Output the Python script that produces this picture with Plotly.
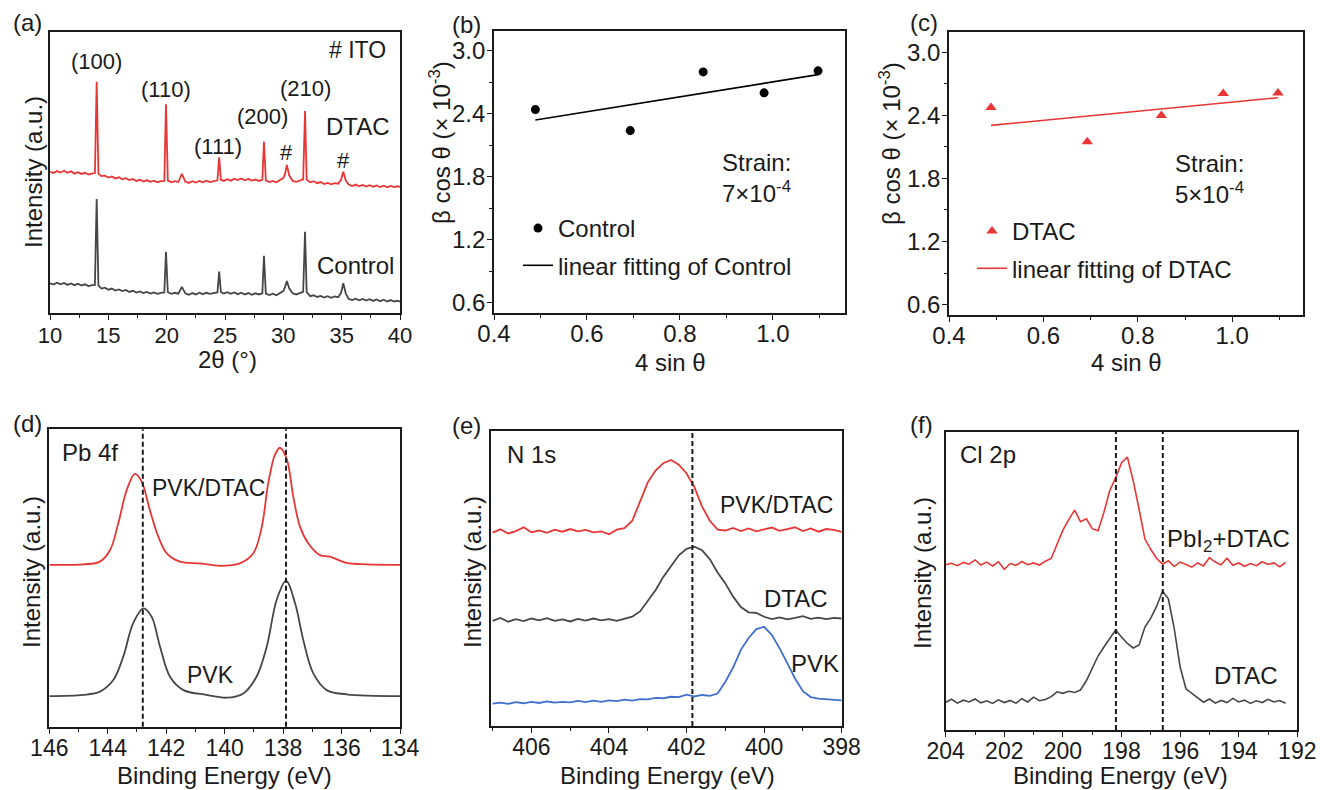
import numpy as np
import plotly.graph_objects as go

# ---------------- data ----------------
# (a) XRD patterns (arbitrary intensity units)
xrd_2theta = [10.0, 10.3, 10.6, 10.9, 11.2, 11.5, 11.8, 12.1, 12.4, 12.7,
              13.0, 13.3, 13.6, 13.85, 14.0, 14.15, 14.4, 14.7, 15.0, 15.3,
              15.6, 15.9, 16.2, 16.5, 16.8, 17.1, 17.4, 17.7, 18.0, 18.3,
              18.6, 18.9, 19.2, 19.5, 19.8, 19.94, 20.1, 20.4, 20.7, 21.0,
              21.3, 21.6, 21.9, 22.2, 22.5, 22.8, 23.1, 23.4, 23.7, 24.0,
              24.35, 24.5, 24.65, 24.9, 25.2, 25.5, 25.8, 26.1, 26.4, 26.7,
              27.0, 27.3, 27.6, 27.9, 28.2, 28.34, 28.5, 28.8, 29.1, 29.4,
              29.7, 30.0, 30.15, 30.3, 30.5, 30.8, 31.1, 31.4, 31.7, 31.86,
              32.0, 32.3, 32.6, 32.9, 33.2, 33.5, 33.8, 34.1, 34.4, 34.7,
              34.95, 35.14, 35.35, 35.6, 35.9, 36.2, 36.5, 36.8, 37.1, 37.4,
              37.7, 38.0, 38.3, 38.6, 38.9, 39.2, 39.5, 39.8, 40.0]
xrd_dtac = [50.3, 49.8, 50.5, 50.0, 50.6, 49.9, 50.4, 49.6, 50.1, 49.5,
            49.9, 49.3, 49.6, 49.8, 82.3, 49.6, 48.7, 48.9, 48.2, 48.6,
            47.9, 48.3, 47.6, 48.0, 47.3, 47.7, 47.0, 47.4, 46.8, 47.3,
            46.7, 47.1, 46.5, 46.9, 47.0, 74.3, 47.2, 46.5, 46.9, 46.6,
            49.5, 46.8, 46.3, 46.9, 46.4, 47.0, 46.5, 47.1, 46.6, 47.0,
            47.2, 55.4, 47.4, 47.0, 47.6, 47.1, 47.8, 47.3, 47.9, 47.2,
            47.7, 47.1, 47.5, 47.0, 47.4, 61.0, 47.2, 46.6, 47.0, 46.5,
            47.2, 48.0, 49.5, 52.7, 49.0, 47.0, 46.7, 47.2, 47.6, 71.9,
            47.5, 46.5, 46.9, 46.2, 46.6, 45.9, 46.3, 45.8, 46.2, 46.0,
            47.5, 50.3, 47.2, 45.7, 45.2, 45.7, 45.1, 45.6, 45.0, 45.5,
            44.9, 45.4, 44.8, 45.3, 44.7, 45.2, 44.8, 45.1, 44.9]
xrd_control = [10.6, 10.1, 10.8, 10.2, 10.7, 10.0, 10.5, 9.9, 10.4, 9.8,
               10.2, 9.6, 9.9, 10.0, 40.6, 9.8, 8.7, 9.0, 8.3, 8.7,
               8.0, 8.4, 7.8, 8.2, 7.5, 7.9, 7.3, 7.7, 7.1, 7.5,
               6.9, 7.3, 6.8, 7.2, 7.3, 21.8, 7.4, 6.8, 7.2, 6.9,
               9.3, 7.0, 6.5, 7.1, 6.6, 7.2, 6.7, 7.2, 6.8, 7.1,
               7.3, 14.7, 7.4, 6.9, 7.4, 6.8, 7.3, 6.7, 7.2, 6.6,
               7.1, 6.5, 7.0, 6.6, 7.0, 20.4, 6.9, 6.4, 6.9, 6.3,
               7.0, 7.8, 9.3, 11.4, 8.8, 7.0, 6.6, 7.1, 7.5, 28.9,
               7.4, 6.0, 6.3, 5.7, 6.1, 5.5, 6.0, 5.4, 5.9, 5.6,
               7.2, 10.6, 7.0, 5.0, 4.6, 5.1, 4.5, 5.0, 4.4, 4.9,
               4.3, 4.8, 4.2, 4.7, 4.1, 4.6, 4.1, 4.4, 4.0]

# (b), (c) Williamson-Hall data
wh_4sin = [0.489, 0.693, 0.850, 0.981, 1.097]
wh_control = [2.44, 2.24, 2.80, 2.60, 2.81]
wh_dtac = [2.476, 2.15, 2.40, 2.61, 2.615]

# (d) Pb 4f
pb4f_dtac_be = [146.0, 144.84, 144.27, 143.92, 143.64, 143.35, 143.07, 142.84, 142.56, 142.27,
                141.98, 141.53, 140.84, 140.16, 139.48, 139.02, 138.73, 138.51, 138.28, 138.11,
                137.88, 137.65, 137.42, 137.14, 136.74, 136.40, 135.83, 135.14, 134.0]
pb4f_dtac_int = [54.4, 54.6, 55.5, 59.4, 68.4, 79.6, 85.0, 82.4, 72.9, 63.9,
                 58.3, 55.5, 54.9, 54.1, 54.9, 58.3, 67.2, 81.8, 91.4, 93.8,
                 90.2, 77.3, 67.2, 61.7, 57.7, 57.2, 55.1, 54.6, 54.4]
pb4f_pvk_be = [146.0, 144.84, 144.27, 143.81, 143.47, 143.13, 142.78, 142.50, 142.21, 141.87,
               141.41, 140.62, 139.93, 139.36, 138.91, 138.56, 138.22, 137.90, 137.59, 137.31,
               136.97, 136.51, 135.83, 134.0]
pb4f_pvk_int = [10.3, 10.7, 11.8, 15.7, 23.5, 34.8, 39.8, 37.0, 26.9, 16.8,
                12.3, 10.7, 9.75, 11.2, 16.8, 26.9, 42.6, 49.0, 41.5, 29.2,
                18.0, 12.3, 10.9, 10.3]
pb4f_ref_lines = [142.8, 137.9]

# (e) N 1s
n1s_be = [407.0, 406.8, 406.6, 406.4, 406.2, 406.0, 405.8, 405.6, 405.4, 405.2,
          405.0, 404.8, 404.6, 404.4, 404.2, 404.0, 403.8, 403.6, 403.4, 403.2,
          403.0, 402.8, 402.6, 402.4, 402.2, 402.0, 401.8, 401.6, 401.4, 401.2,
          401.0, 400.8, 400.6, 400.4, 400.2, 400.0, 399.8, 399.6, 399.4, 399.2,
          399.0, 398.8, 398.6, 398.4, 398.2, 398.0]
n1s_pvk_dtac = [65.5, 66.6, 65.2, 66.0, 67.3, 65.6, 66.2, 65.4, 66.5, 65.8,
                66.7, 65.9, 66.4, 65.6, 65.9, 64.9, 66.5, 67.0, 69.5, 76.0,
                82.5, 86.5, 89.0, 90.1, 88.5, 85.5, 81.0, 74.3, 69.5, 66.5,
                66.2, 67.1, 66.0, 66.9, 65.9, 66.6, 67.2, 66.1, 66.8, 67.3,
                66.0, 66.9, 65.8, 66.7, 66.4, 65.7]
n1s_dtac = [35.6, 36.6, 35.3, 36.2, 35.5, 36.4, 35.8, 36.5, 35.6, 36.1,
            35.4, 36.3, 35.7, 36.4, 35.8, 36.2, 35.6, 36.3, 37.0, 38.8,
            42.5, 46.0, 50.5, 54.0, 57.8, 60.0, 60.7, 59.5, 56.5, 52.0,
            48.3, 43.8, 40.3, 38.5, 38.3, 37.0, 36.2, 36.8, 36.1, 36.6,
            37.2, 36.3, 36.7, 36.2, 36.6, 36.4]
n1s_pvk = [7.6, 7.9, 7.5, 8.1, 7.7, 8.2, 7.8, 8.3, 7.9, 8.2,
           8.0, 8.5, 8.1, 8.6, 8.2, 8.7, 8.4, 8.9, 8.6, 9.1,
           9.0, 9.5, 9.4, 9.9, 9.8, 10.6, 10.0, 10.5, 10.2, 11.0,
           15.0, 19.8, 25.8, 29.8, 32.8, 33.6, 30.8, 26.3, 21.2, 16.0,
           11.8, 9.8, 9.3, 9.1, 8.9, 8.7]
n1s_ref_lines = [401.85]

# (f) Cl 2p
cl2p_be = [204.0, 203.8, 203.6, 203.4, 203.2, 203.0, 202.8, 202.6, 202.4, 202.2,
           202.0, 201.8, 201.6, 201.4, 201.2, 201.0, 200.8, 200.6, 200.4, 200.2,
           200.0, 199.8, 199.6, 199.4, 199.2, 199.0, 198.8, 198.6, 198.4, 198.2,
           198.0, 197.8, 197.6, 197.4, 197.2, 197.0, 196.8, 196.6, 196.4, 196.2,
           196.0, 195.8, 195.6, 195.4, 195.2, 195.0, 194.8, 194.6, 194.4, 194.2,
           194.0, 193.8, 193.6, 193.4, 193.2, 193.0, 192.8, 192.6, 192.4]
cl2p_pbi2_dtac = [55.4, 55.9, 55.1, 56.2, 55.6, 57.0, 55.3, 56.3, 55.0, 56.4,
                  53.9, 55.8, 55.2, 56.5, 55.4, 56.0, 55.3, 56.6, 57.5, 62.0,
                  67.0, 70.5, 73.7, 69.8, 70.8, 67.5, 66.8, 73.0, 80.3, 84.5,
                  89.5, 91.5, 83.5, 74.0, 64.0, 60.5, 57.5, 55.6, 56.7, 54.8,
                  56.3, 55.5, 54.6, 56.0, 55.0, 57.8, 56.3, 55.4, 57.6, 55.2,
                  56.0, 54.9, 55.8, 55.1, 56.4, 55.5, 56.0, 54.7, 56.2]
cl2p_dtac = [9.3, 10.3, 9.0, 10.0, 9.4, 10.4, 9.1, 9.8, 8.9, 10.1,
             9.2, 9.9, 9.0, 10.5, 9.4, 11.0, 9.8, 10.2, 11.2, 12.8,
             12.3, 13.0, 12.6, 13.4, 16.5, 20.8, 24.8, 27.8, 30.8, 33.5,
             31.2, 29.0, 27.5, 28.5, 34.5, 37.5, 41.5, 46.5, 44.0, 34.0,
             21.2, 13.8, 12.3, 10.8, 9.3, 10.4, 9.0, 9.9, 9.2, 10.6,
             9.4, 10.0, 8.9, 9.8, 9.2, 10.3, 9.4, 9.9, 9.0]
cl2p_ref_lines = [198.19, 196.59]

# ---------------- styling helpers ----------------
W, H = 1320, 790
def PX(x):
    return x / W
def PY(y):
    return 1 - y / H

RED = 'rgb(232,54,54)'
GREY = 'rgb(70,70,70)'
BLUE = 'rgb(64,112,206)'
INK = '#1a1a1a'
FONT = 'Arial, Liberation Sans, sans-serif'

fig = go.Figure()

# (a)
fig.add_trace(go.Scatter(x=xrd_2theta, y=xrd_dtac, mode='lines', line=dict(color=RED, width=1.8),
                         xaxis='x', yaxis='y', showlegend=False))
fig.add_trace(go.Scatter(x=xrd_2theta, y=xrd_control, mode='lines', line=dict(color=GREY, width=1.8),
                         xaxis='x', yaxis='y', showlegend=False))

# (b)
cb = np.polyfit(wh_4sin, wh_control, 1)
fit_x = [min(wh_4sin), max(wh_4sin)]
fig.add_trace(go.Scatter(x=wh_4sin, y=wh_control, mode='markers', name='Control',
                         marker=dict(color='black', size=9, symbol='circle'),
                         xaxis='x2', yaxis='y2', legend='legend', legendgroup='c1'))
fig.add_trace(go.Scatter(x=fit_x, y=list(np.polyval(cb, fit_x)), mode='lines',
                         name='linear fitting of Control', line=dict(color='black', width=1.6),
                         xaxis='x2', yaxis='y2', legend='legend', legendgroup='c2'))

# (c)
cd = np.polyfit(wh_4sin, wh_dtac, 1)
fig.add_trace(go.Scatter(x=wh_4sin, y=wh_dtac, mode='markers', name='DTAC',
                         marker=dict(color=RED, size=10, symbol='triangle-up'),
                         xaxis='x3', yaxis='y3', legend='legend2', legendgroup='d1'))
fig.add_trace(go.Scatter(x=fit_x, y=list(np.polyval(cd, fit_x)), mode='lines',
                         name='linear fitting of DTAC', line=dict(color=RED, width=1.6),
                         xaxis='x3', yaxis='y3', legend='legend2', legendgroup='d2'))

# (d)
fig.add_trace(go.Scatter(x=pb4f_dtac_be, y=pb4f_dtac_int, mode='lines', line=dict(color=RED, width=1.8, shape='spline'),
                         xaxis='x4', yaxis='y4', showlegend=False))
fig.add_trace(go.Scatter(x=pb4f_pvk_be, y=pb4f_pvk_int, mode='lines', line=dict(color=GREY, width=1.8, shape='spline'),
                         xaxis='x4', yaxis='y4', showlegend=False))

# (e)
fig.add_trace(go.Scatter(x=n1s_be, y=n1s_pvk_dtac, mode='lines', line=dict(color=RED, width=1.8),
                         xaxis='x5', yaxis='y5', showlegend=False))
fig.add_trace(go.Scatter(x=n1s_be, y=n1s_dtac, mode='lines', line=dict(color=GREY, width=1.8),
                         xaxis='x5', yaxis='y5', showlegend=False))
fig.add_trace(go.Scatter(x=n1s_be, y=n1s_pvk, mode='lines', line=dict(color=BLUE, width=1.8),
                         xaxis='x5', yaxis='y5', showlegend=False))

# (f)
fig.add_trace(go.Scatter(x=cl2p_be, y=cl2p_pbi2_dtac, mode='lines', line=dict(color=RED, width=1.6),
                         xaxis='x6', yaxis='y6', showlegend=False))
fig.add_trace(go.Scatter(x=cl2p_be, y=cl2p_dtac, mode='lines', line=dict(color=GREY, width=1.6),
                         xaxis='x6', yaxis='y6', showlegend=False))

# ---------------- axes ----------------
def base_axis(domain, anchor, rng, fsize=22, standoff=-3, **kw):
    d = dict(domain=domain, anchor=anchor, range=rng, showline=True, linecolor=INK, linewidth=1.6,
             mirror=True, showgrid=False, zeroline=False, ticks='outside', ticklen=5, tickwidth=1.4,
             tickcolor=INK, tickfont=dict(size=fsize, color=INK, family=FONT), fixedrange=True,
             automargin=False, ticklabelstandoff=standoff)
    d.update(kw)
    return d

def minor(dt):
    return dict(ticks='outside', ticklen=3, tickwidth=1.2, tickcolor=INK, dtick=dt, showgrid=False)

def blank_y(domain, anchor):
    return dict(domain=domain, anchor=anchor, range=[0, 100], showline=True, linecolor=INK, linewidth=1.6,
                mirror=True, showgrid=False, zeroline=False, ticks='', showticklabels=False,
                fixedrange=True, automargin=False)

dom = {
    'a': ([PX(50), PX(400)], [PY(313), PY(32)]),
    'b': ([PX(494), PX(845)], [PY(313), PY(31)]),
    'c': ([PX(949), PX(1303)], [PY(315), PY(32)]),
    'd': ([PX(49.3), PX(400)], [PY(726.7), PY(429.3)]),
    'e': ([PX(490.7), PX(841.7)], [PY(726), PY(430.7)]),
    'f': ([PX(945.7), PX(1297.3)], [PY(730), PY(431.7)]),
}

layout = dict(
    width=W, height=H, margin=dict(l=0, r=0, t=0, b=0, autoexpand=False),
    paper_bgcolor='white', plot_bgcolor='white', hovermode=False,
    font=dict(family=FONT, color=INK),
    xaxis=base_axis(dom['a'][0], 'y', [10, 40], 22, dtick=5, tick0=10, minor=minor(2.5)),
    yaxis=blank_y(dom['a'][1], 'x'),
    xaxis2=base_axis(dom['b'][0], 'y2', [0.4, 1.155], 24, -7, dtick=0.2, tick0=0.4, tickformat='.1f', minor=minor(0.1)),
    yaxis2=base_axis(dom['b'][1], 'x2', [0.5, 3.19], 24, dtick=0.6, tick0=0.6, tickformat='.1f', minor=minor(0.3)),
    xaxis3=base_axis(dom['c'][0], 'y3', [0.4, 1.15], 24, -7, dtick=0.2, tick0=0.4, tickformat='.1f', minor=minor(0.1)),
    yaxis3=base_axis(dom['c'][1], 'x3', [0.5, 3.195], 24, dtick=0.6, tick0=0.6, tickformat='.1f', minor=minor(0.3)),
    xaxis4=base_axis(dom['d'][0], 'y4', [146, 134], 23, -5, dtick=2, tick0=134, minor=minor(1)),
    yaxis4=blank_y(dom['d'][1], 'x4'),
    xaxis5=base_axis(dom['e'][0], 'y5', [407.05, 398], 23, -5, dtick=2, tick0=398, minor=minor(1)),
    yaxis5=blank_y(dom['e'][1], 'x5'),
    xaxis6=base_axis(dom['f'][0], 'y6', [204, 192], 23, -5, dtick=2, tick0=192, minor=minor(1)),
    yaxis6=blank_y(dom['f'][1], 'x6'),
    legend=dict(x=PX(518), y=PY(206), xanchor='left', yanchor='top', bgcolor='rgba(0,0,0,0)',
                font=dict(size=24, color=INK, family=FONT), traceorder='grouped', tracegroupgap=3),
    legend2=dict(x=PX(972), y=PY(209), xanchor='left', yanchor='top', bgcolor='rgba(0,0,0,0)',
                 font=dict(size=24, color=INK, family=FONT), traceorder='grouped', tracegroupgap=3),
)
fig.update_layout(**layout)

# dashed reference lines
shapes = []
for axn, vals in (('4', pb4f_ref_lines), ('5', n1s_ref_lines), ('6', cl2p_ref_lines)):
    for v in vals:
        shapes.append(dict(type='line', xref='x' + axn, yref='y' + axn + ' domain', x0=v, x1=v, y0=0, y1=1,
                           line=dict(color=INK, width=2, dash='5px,3px')))
fig.update_layout(shapes=shapes)

# ---------------- text ----------------
ann = []
def txt(s, x, y, size=22, xanchor='center', angle=0):
    ann.append(dict(text=s, x=PX(x), y=PY(y), xref='paper', yref='paper', showarrow=False,
                    xanchor=xanchor, yanchor='middle', textangle=angle,
                    font=dict(size=size, color=INK, family=FONT)))

# panel labels
for s, x, y in (('(a)', 27, 22), ('(b)', 467, 24), ('(c)', 924, 22),
                ('(d)', 27, 423), ('(e)', 467, 425), ('(f)', 921, 424)):
    txt(s, x, y, 24)

# axis titles
txt('2θ (°)', 227, 359, 24)
txt('4 sin θ', 670, 362, 24)
txt('4 sin θ', 1126, 362, 24)
for x in (224.5, 667.5, 1120.5):
    txt('Binding Energy (eV)', x, 775, 24)
txt('Intensity (a.u.)', 33, 172, 24, angle=-90)
txt('Intensity (a.u.)', 31, 572, 24, angle=-90)
txt('Intensity (a.u.)', 472, 572, 24, angle=-90)
txt('Intensity (a.u.)', 922, 573, 24, angle=-90)
txt('β cos θ (× 10<sup>-3</sup>)', 440, 143, 24, angle=-90)
txt('β cos θ (× 10<sup>-3</sup>)', 890, 143, 24, angle=-90)

# (a) labels
for s, x, y in (('(100)', 96.7, 62), ('(110)', 166.3, 89), ('(111)', 218.3, 146),
                ('(200)', 262.2, 116), ('(210)', 305, 88)):
    txt(s, x, y, 22)
txt('#', 286.7, 152, 22)
txt('#', 343.3, 161, 22)
txt('# ITO', 357.5, 50, 23)
txt('DTAC', 358.3, 127, 24)
txt('Control', 355, 265, 24)

# (b), (c) strain
txt('Strain:', 720, 162, 24, xanchor='left')
txt('7×10<sup>-4</sup>', 720, 192, 24, xanchor='left')
txt('Strain:', 1173, 163, 24, xanchor='left')
txt('5×10<sup>-4</sup>', 1173, 193, 24, xanchor='left')

# (d)
txt('Pb 4f', 60, 453, 24, xanchor='left')
txt('PVK/DTAC', 150, 488, 23, xanchor='left')
txt('PVK', 185, 675, 23, xanchor='left')
# (e)
txt('N 1s', 505, 455, 24, xanchor='left')
txt('PVK/DTAC', 718, 505, 23, xanchor='left')
txt('DTAC', 762, 598, 24, xanchor='left')
txt('PVK', 789, 663, 24, xanchor='left')
# (f)
txt('Cl 2p', 958, 455, 24, xanchor='left')
txt('PbI<sub>2</sub>+DTAC', 1165, 540, 24, xanchor='left')
txt('DTAC', 1212, 675, 24, xanchor='left')

fig.update_layout(annotations=ann)

fig.write_html('out.html', config={'displayModeBar': False},
               post_script="document.body.style.margin='0';document.body.style.padding='0';")
